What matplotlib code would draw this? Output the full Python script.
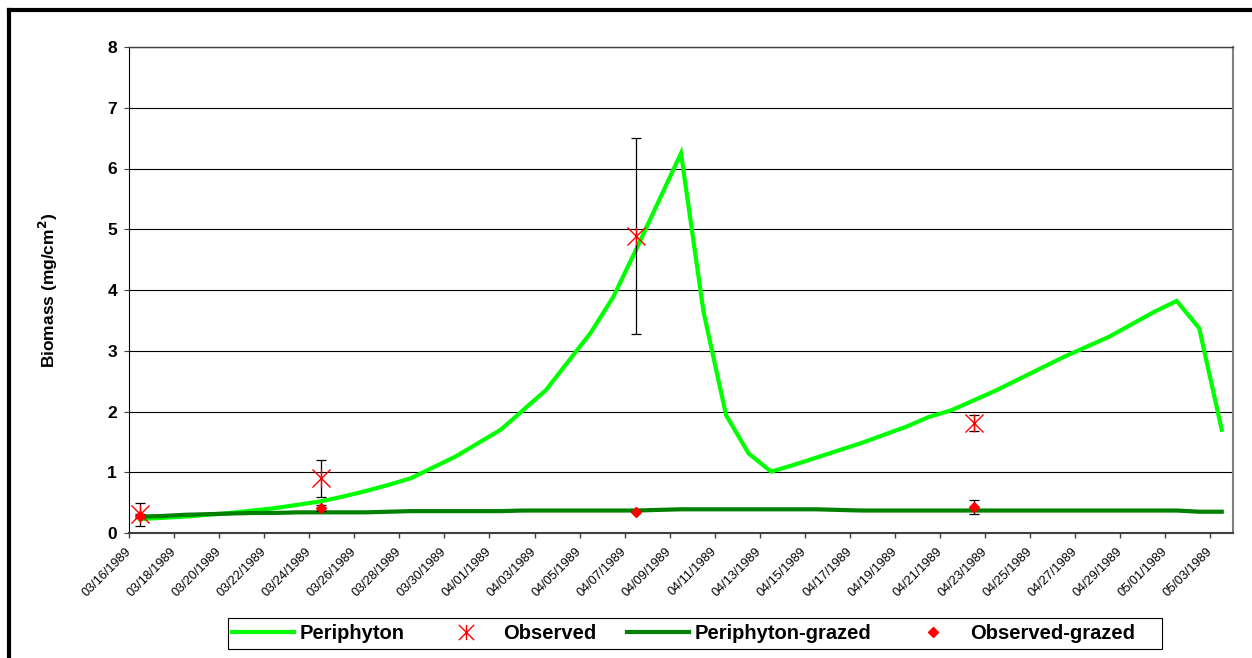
import matplotlib
matplotlib.use('Agg')
import matplotlib.pyplot as plt
from matplotlib.lines import Line2D
from matplotlib.patches import Rectangle
from matplotlib.path import Path
import pandas as pd

plt.rcParams['font.family'] = ['Liberation Sans', 'DejaVu Sans']

# ---- data ----
start = '1989-03-16'
end = '1989-05-03'

# model run (vertices)
periphyton_dates = ['03/16', '03/18', '03/20', '03/22', '03/24', '03/25', '03/26',
                    '03/27', '03/28', '03/30', '04/01', '04/03', '04/05', '04/06',
                    '04/07', '04/09', '04/10', '04/11', '04/12', '04/13', '04/14',
                    '04/17', '04/19', '04/20', '04/21', '04/23', '04/26', '04/28',
                    '04/30', '05/01', '05/02', '05/03']
periphyton = [0.23, 0.27, 0.33, 0.41, 0.52, 0.60, 0.69,
              0.79, 0.90, 1.26, 1.70, 2.35, 3.30, 3.89,
              4.66, 6.25, 3.64, 1.94, 1.31, 1.01, 1.12,
              1.48, 1.75, 1.91, 2.02, 2.35, 2.90, 3.23,
              3.64, 3.82, 3.37, 1.70]

# grazed run, daily 03/16 .. 05/03
grazed = [0.27, 0.28, 0.30, 0.31, 0.32, 0.33, 0.33, 0.34, 0.34, 0.34,
          0.34, 0.35, 0.36, 0.36, 0.36, 0.36, 0.36, 0.37, 0.37, 0.37,
          0.37, 0.37, 0.37, 0.38, 0.39, 0.39, 0.39, 0.39, 0.39, 0.39,
          0.39, 0.38, 0.37, 0.37, 0.37, 0.37, 0.37, 0.37, 0.37, 0.37,
          0.37, 0.37, 0.37, 0.37, 0.37, 0.37, 0.37, 0.35, 0.35]

obs_dates = ['03/16', '03/24', '04/07', '04/22']
observed = [0.31, 0.90, 4.89, 1.81]
observed_err = [0.19, 0.30, 1.62, 0.13]
observed_grazed = [0.28, 0.41, 0.35, 0.43]
observed_grazed_err = [0.03, 0.05, 0.01, 0.12]


def day_offset(md):
    d = pd.to_datetime('1989/' + md, format='%Y/%m/%d')
    return (d - pd.Timestamp(start)).days


px = [day_offset(d) for d in periphyton_dates]
gx = list(range(len(grazed)))
ox = [day_offset(d) for d in obs_dates]

all_days = pd.date_range(start, end, freq='D')
tick_days = all_days[::2]
tick_pos = [(d - pd.Timestamp(start)).days - 0.5 for d in tick_days]
tick_labels = [d.strftime('%m/%d/%Y') for d in tick_days]

# star marker like excel: X plus vertical bar
star = Path([(-1, -1), (1, 1), (-1, 1), (1, -1), (0, -1), (0, 1)],
            [Path.MOVETO, Path.LINETO, Path.MOVETO, Path.LINETO, Path.MOVETO, Path.LINETO])

# ---- figure ----
fig = plt.figure(figsize=(12.52, 6.58), dpi=100)
W, H = 1252, 658
ax = fig.add_axes([129 / W, 1 - 533 / H, (1233 - 129) / W, (533 - 47) / H])

ax.plot(px, periphyton, color='#00FF00', lw=3, solid_joinstyle='miter', zorder=3)
ax.plot(gx, grazed, color='#008000', lw=3, zorder=3)

ax.errorbar(ox, observed, yerr=observed_err, fmt='none', ecolor='black',
            elinewidth=0.9, capsize=3.5, capthick=0.9, zorder=4)
ax.errorbar(ox, observed_grazed, yerr=observed_grazed_err, fmt='none', ecolor='black',
            elinewidth=0.9, capsize=3.5, capthick=0.9, zorder=4)
ax.plot(ox, observed, ls='none', marker=star, ms=13, mew=1, mec='red', mfc='none', zorder=5)
ax.plot(ox, observed_grazed, ls='none', marker='D', ms=5, mec='red', mfc='red', zorder=5)

ax.set_xlim(-0.5, 48.5)
ax.set_ylim(0, 8)
ax.set_yticks(range(0, 9))
ax.set_yticklabels([str(i) for i in range(0, 9)], fontsize=12.5, fontweight='bold')
ax.set_xticks(tick_pos)
ax.set_xticklabels(tick_labels, rotation=45, ha='right', va='center',
                   rotation_mode='anchor', fontsize=9.2)

ax.tick_params(axis='y', direction='out', length=3.6, width=0.8, pad=5, color='#404040')
ax.tick_params(axis='x', direction='out', length=3.6, width=1, pad=8.4, color='#404040')

ax.yaxis.grid(True, color='black', lw=0.8)
ax.set_axisbelow(True)
ax.spines['left'].set_color('black')
ax.spines['left'].set_linewidth(0.8)
ax.spines['bottom'].set_color('#404040')
ax.spines['bottom'].set_linewidth(1.5)
ax.spines['right'].set_color('#808080')
ax.spines['right'].set_linewidth(1.5)
ax.spines['top'].set_color('#404040')
ax.spines['top'].set_linewidth(1)

ax.set_ylabel('Biomass (mg/cm$^{\\mathbf{2}}$)', fontsize=12.5, fontweight='bold')
ax.yaxis.set_label_coords((60 - 129) / (1233 - 129), 0.5)

# legend: frame drawn separately, entries placed inside
fig.add_artist(Rectangle((228 / W, 1 - 649 / H), (1162 - 228) / W, 31 / H,
                         transform=fig.transFigure, fill=False, edgecolor='black',
                         lw=0.8))
handles = [
    Line2D([], [], color='#00FF00', lw=3),
    Line2D([], [], ls='none', marker=star, ms=11, mew=1, mec='red', mfc='none'),
    Line2D([], [], color='#008000', lw=3),
    Line2D([], [], ls='none', marker='D', ms=5, mec='red', mfc='red'),
]
labels = ['Periphyton', 'Observed', 'Periphyton-grazed', 'Observed-grazed']
leg = fig.legend(handles, labels, loc='center left', ncol=4,
                 bbox_to_anchor=(232 / W, 1 - 633.5 / H),
                 prop={'weight': 'bold', 'size': 14.5}, frameon=False,
                 handlelength=3.1, handletextpad=0.28, columnspacing=1.5,
                 borderpad=0, borderaxespad=0)

# outer chart frame (partly cut off)
fig.add_artist(Line2D([9 / W, 9 / W], [0, 1 - 10 / H], color='black', lw=3,
                      transform=fig.transFigure, solid_capstyle='projecting'))
fig.add_artist(Line2D([9 / W, 1], [1 - 10 / H, 1 - 10 / H], color='black', lw=3,
                      transform=fig.transFigure, solid_capstyle='projecting'))

fig.savefig('out.png', dpi=100)
